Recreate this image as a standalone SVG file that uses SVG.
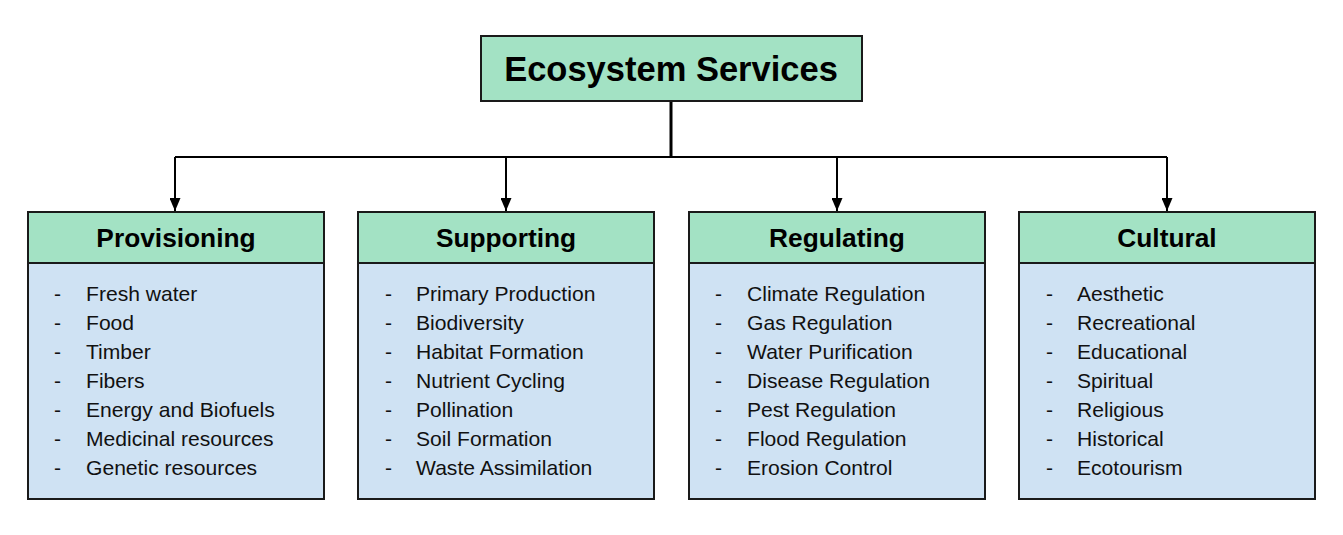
<svg xmlns="http://www.w3.org/2000/svg" width="1343" height="535" viewBox="0 0 1343 535">
<style>
.hd{fill:#a3e2c4;stroke:#1a1a1a;stroke-width:2}
.bd{fill:#cfe2f3;stroke:#1a1a1a;stroke-width:2}
.ht{font-family:"Liberation Sans",Arial,sans-serif;font-weight:bold;font-size:26.3px;fill:#000;text-anchor:middle}
.it{font-family:"Liberation Sans",Arial,sans-serif;font-size:21.1px;fill:#111}
.ln{stroke:#000;stroke-width:2;fill:none}
</style>
<defs>
<marker id="ah" markerWidth="13" markerHeight="11" refX="13" refY="5.5" orient="auto" markerUnits="userSpaceOnUse" viewBox="0 0 13 11">
<path d="M0,0 L13,5.5 L0,11 Z" fill="#000"/>
</marker>
</defs>
<rect width="1343" height="535" fill="#fff"/>
<g id="connectors">
<line x1="671" y1="101" x2="671" y2="157" stroke="#000" stroke-width="3"/>
<line x1="175" y1="157" x2="1167" y2="157" class="ln"/>
<line x1="175" y1="157" x2="175" y2="211" class="ln" marker-end="url(#ah)"/>
<line x1="506" y1="157" x2="506" y2="211" class="ln" marker-end="url(#ah)"/>
<line x1="837" y1="157" x2="837" y2="211" class="ln" marker-end="url(#ah)"/>
<line x1="1167" y1="157" x2="1167" y2="211" class="ln" marker-end="url(#ah)"/>
</g>
<g id="root">
<rect x="481" y="36" width="381" height="65" class="hd"/>
<text x="671" y="81" class="ht" style="font-size:34.5px">Ecosystem Services</text>
</g>
<g id="provisioning">
<rect x="28" y="212" width="296" height="287" class="bd"/>
<rect x="28" y="212" width="296" height="51" class="hd"/>
<text x="176" y="247" class="ht">Provisioning</text>
<g class="it">
<text x="54" y="301">-</text><text x="86" y="301">Fresh water</text>
<text x="54" y="330">-</text><text x="86" y="330">Food</text>
<text x="54" y="359">-</text><text x="86" y="359">Timber</text>
<text x="54" y="388">-</text><text x="86" y="388">Fibers</text>
<text x="54" y="417">-</text><text x="86" y="417">Energy and Biofuels</text>
<text x="54" y="446">-</text><text x="86" y="446">Medicinal resources</text>
<text x="54" y="475">-</text><text x="86" y="475">Genetic resources</text>
</g>
</g>
<g id="supporting">
<rect x="358" y="212" width="296" height="287" class="bd"/>
<rect x="358" y="212" width="296" height="51" class="hd"/>
<text x="506" y="247" class="ht">Supporting</text>
<g class="it">
<text x="385" y="301">-</text><text x="416" y="301">Primary Production</text>
<text x="385" y="330">-</text><text x="416" y="330">Biodiversity</text>
<text x="385" y="359">-</text><text x="416" y="359">Habitat Formation</text>
<text x="385" y="388">-</text><text x="416" y="388">Nutrient Cycling</text>
<text x="385" y="417">-</text><text x="416" y="417">Pollination</text>
<text x="385" y="446">-</text><text x="416" y="446">Soil Formation</text>
<text x="385" y="475">-</text><text x="416" y="475">Waste Assimilation</text>
</g>
</g>
<g id="regulating">
<rect x="689" y="212" width="296" height="287" class="bd"/>
<rect x="689" y="212" width="296" height="51" class="hd"/>
<text x="837" y="247" class="ht">Regulating</text>
<g class="it">
<text x="715" y="301">-</text><text x="747" y="301">Climate Regulation</text>
<text x="715" y="330">-</text><text x="747" y="330">Gas Regulation</text>
<text x="715" y="359">-</text><text x="747" y="359">Water Purification</text>
<text x="715" y="388">-</text><text x="747" y="388">Disease Regulation</text>
<text x="715" y="417">-</text><text x="747" y="417">Pest Regulation</text>
<text x="715" y="446">-</text><text x="747" y="446">Flood Regulation</text>
<text x="715" y="475">-</text><text x="747" y="475">Erosion Control</text>
</g>
</g>
<g id="cultural">
<rect x="1019" y="212" width="296" height="287" class="bd"/>
<rect x="1019" y="212" width="296" height="51" class="hd"/>
<text x="1167" y="247" class="ht">Cultural</text>
<g class="it">
<text x="1046" y="301">-</text><text x="1077" y="301">Aesthetic</text>
<text x="1046" y="330">-</text><text x="1077" y="330">Recreational</text>
<text x="1046" y="359">-</text><text x="1077" y="359">Educational</text>
<text x="1046" y="388">-</text><text x="1077" y="388">Spiritual</text>
<text x="1046" y="417">-</text><text x="1077" y="417">Religious</text>
<text x="1046" y="446">-</text><text x="1077" y="446">Historical</text>
<text x="1046" y="475">-</text><text x="1077" y="475">Ecotourism</text>
</g>
</g>
</svg>
